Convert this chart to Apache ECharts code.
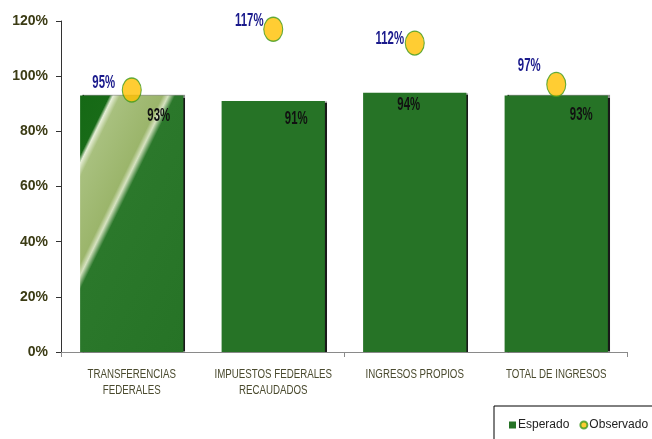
<!DOCTYPE html>
<html>
<head>
<meta charset="utf-8">
<script src="https://cdn.jsdelivr.net/npm/echarts@6/dist/echarts.min.js"></script>
<style>
  html, body { margin: 0; padding: 0; background: #fff; }
  #chart { width: 652px; height: 439px; }
</style>
</head>
<body>
<div id="chart"></div>
<script>
// Categories and percentages
const categories = ['TRANSFERENCIAS\nFEDERALES', 'IMPUESTOS FEDERALES\nRECAUDADOS', 'INGRESOS PROPIOS', 'TOTAL DE INGRESOS'];
const esperado = [93, 91, 94, 93];
const observado = [95, 117, 112, 97];
const yTicks = { min: 0, max: 120, step: 20 };

// Label nudges (pixels) relative to the point each tag belongs to
const barLabelShift = [[27, 20], [23, 18], [-6, 12], [25, 19]];
const dotLabelShift = [[-28, -7], [-24, -9], [-25, -4], [-27, -19]];

const sansFont = '"Liberation Sans", Arial, sans-serif';
const barGreen = '#267326';

// Glossy diagonal highlight used on the first column
const glare = {
  type: 'linear', x: 0, y: 0, x2: 1.79, y2: 0.353,
  colorStops: [
    { offset: 0.0, color: '#156915' },
    { offset: 0.128, color: '#186b17' },
    { offset: 0.145, color: '#e6eed6' },
    { offset: 0.175, color: '#a8c07e' },
    { offset: 0.36, color: '#9bb56b' },
    { offset: 0.385, color: '#d6e2c0' },
    { offset: 0.415, color: '#2b782b' },
    { offset: 1.0, color: barGreen }
  ]
};

const barData = esperado.map((v, i) => ({
  value: v,
  itemStyle: i === 0 ? { color: glare } : undefined
}));

// Condensed value tag drawn at a data point (scaled horizontally)
function valueTag(api, shifts, color) {
  const i = api.value(0);
  const v = api.value(1);
  const p = api.coord([i, v]);
  return {
    type: 'text',
    x: p[0] + shifts[i][0],
    y: p[1] + shifts[i][1],
    scaleX: 0.6,
    z2: 10,
    style: {
      text: v + '%',
      font: 'bold 19px ' + sansFont,
      fill: color,
      align: 'center',
      verticalAlign: 'middle'
    }
  };
}

const chart = echarts.init(document.getElementById('chart'), null, { renderer: 'canvas' });
chart.setOption({
  animation: false,
  backgroundColor: '#ffffff',
  grid: { left: 61, right: 25, top: 21, bottom: 87 },
  xAxis: {
    type: 'category',
    data: categories,
    axisLine: { lineStyle: { color: '#8a8a8a', width: 1 } },
    axisTick: { show: true, length: 5, lineStyle: { color: '#8a8a8a' } },
    axisLabel: { show: false }
  },
  yAxis: {
    type: 'value',
    min: yTicks.min,
    max: yTicks.max,
    interval: yTicks.step,
    splitLine: { show: false },
    axisLine: { show: true, lineStyle: { color: '#333333', width: 1 } },
    axisTick: { show: true, length: 5, lineStyle: { color: '#333333' } },
    axisLabel: {
      formatter: '{value}%',
      margin: 13,
      color: '#3b3b14',
      fontFamily: sansFont,
      fontWeight: 'bold',
      fontSize: 14
    }
  },
  legend: {
    left: 494,
    top: 406,
    width: 200,
    padding: [13, 40, 20, 15],
    borderColor: '#000000',
    borderWidth: 1,
    borderRadius: 0,
    itemWidth: 7,
    itemHeight: 7,
    itemGap: 10,
    textStyle: { color: '#222222', fontFamily: sansFont, fontSize: 12, padding: [0, 0, 0, -3] },
    data: [
      { name: 'Esperado', icon: 'rect' },
      { name: 'Observado', icon: 'circle' }
    ]
  },
  series: [
    {
      name: 'Esperado',
      type: 'bar',
      data: barData,
      barCategoryGap: '27%',
      itemStyle: {
        color: barGreen,
        shadowColor: 'rgba(0,0,0,0.9)',
        shadowOffsetX: 2,
        shadowOffsetY: 0,
        shadowBlur: 1
      },
      z: 2
    },
    {
      name: 'Observado',
      type: 'scatter',
      data: observado,
      symbol: 'circle',
      symbolSize: [19, 24],
      itemStyle: {
        color: '#FFC000',
        borderColor: '#3d9a1e',
        borderWidth: 1.2
      },
      z: 5
    },
    {
      // value tags for the columns
      name: 'esperadoTags',
      type: 'custom',
      data: esperado.map((v, i) => [i, v]),
      renderItem: (params, api) => valueTag(api, barLabelShift, '#111111'),
      silent: true,
      z: 6
    },
    {
      // value tags for the markers
      name: 'observadoTags',
      type: 'custom',
      data: observado.map((v, i) => [i, v]),
      renderItem: (params, api) => valueTag(api, dotLabelShift, '#1a1a8c'),
      silent: true,
      z: 6
    },
    {
      // narrow category captions under the axis
      name: 'captions',
      type: 'custom',
      data: categories.map((c, i) => [i, 0]),
      renderItem: (params, api) => {
        const i = api.value(0);
        const p = api.coord([i, 0]);
        return {
          type: 'text',
          x: p[0],
          y: p[1] + 15,
          scaleX: 0.81,
          style: {
            text: categories[i],
            font: '12px ' + sansFont,
            lineHeight: 16,
            fill: '#4a4a2e',
            align: 'center',
            verticalAlign: 'top'
          }
        };
      },
      silent: true,
      z: 6
    }
  ]
});
</script>
</body>
</html>
